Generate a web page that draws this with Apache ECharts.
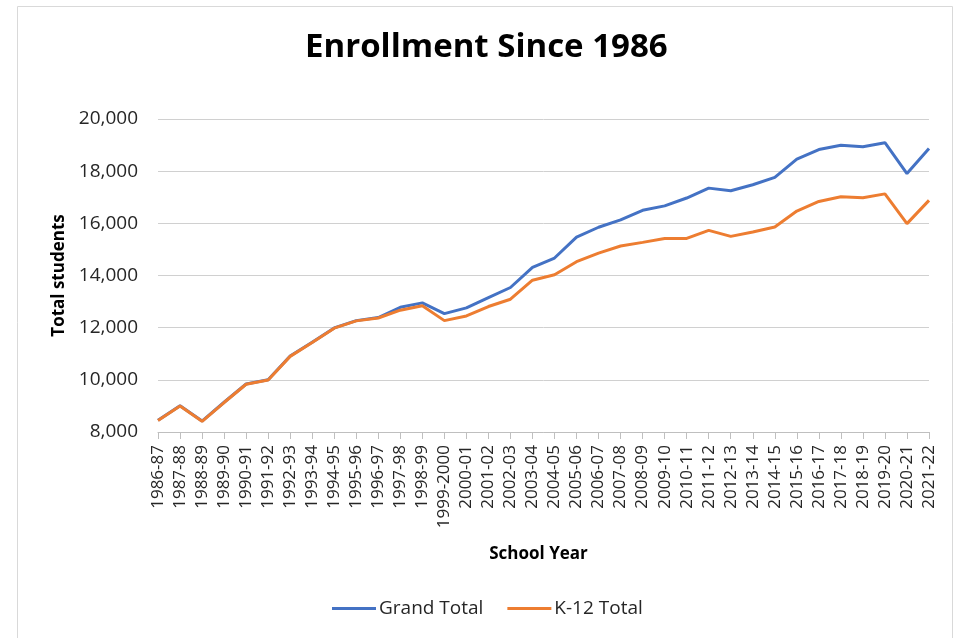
<!DOCTYPE html>
<html>
<head>
<meta charset="utf-8">
<script src="https://cdn.jsdelivr.net/npm/echarts@6/dist/echarts.min.js"></script>
<style>
  html, body { margin: 0; padding: 0; background: #ffffff; }
  #enrollmentChart { width: 957px; height: 638px; }
</style>
</head>
<body>
<div id="enrollmentChart"></div>
<script>
// school years on the x axis
const schoolYears = [
  "1986-87", "1987-88", "1988-89", "1989-90", "1990-91", "1991-92",
  "1992-93", "1993-94", "1994-95", "1995-96", "1996-97", "1997-98",
  "1998-99", "1999-2000", "2000-01", "2001-02", "2002-03", "2003-04",
  "2004-05", "2005-06", "2006-07", "2007-08", "2008-09", "2009-10",
  "2010-11", "2011-12", "2012-13", "2013-14", "2014-15", "2015-16",
  "2016-17", "2017-18", "2018-19", "2019-20", "2020-21", "2021-22"
];

const grandTotal = [
  8450, 9010, 8420, 9140, 9840, 10000,
  10910, 11440, 11990, 12270, 12390, 12780,
  12950, 12540, 12760, 13150, 13540, 14310,
  14670, 15470, 15850, 16130, 16500, 16670,
  16970, 17350, 17250, 17480, 17760, 18460,
  18830, 18990, 18940, 19090, 17910, 18870
];

const k12Total = [
  8440, 9000, 8410, 9130, 9830, 9990,
  10900, 11430, 11980, 12260, 12370, 12670,
  12840, 12270, 12450, 12810, 13090, 13820,
  14030, 14530, 14860, 15130, 15270, 15420,
  15420, 15730, 15500, 15670, 15860, 16470,
  16840, 17020, 16980, 17130, 15990, 16880
];

const fontFamily = "'Open Sans', 'Noto Sans', sans-serif";
const textColor = "#262626";

let chart = echarts.init(document.getElementById("enrollmentChart"));

let option = {
  animation: false,
  textStyle: { fontFamily: fontFamily },
  title: {
    text: "Enrollment Since 1986",
    left: 300,
    top: 26,
    textStyle: {
      color: "#000000",
      fontSize: 33,
      fontWeight: "bold",
      fontFamily: fontFamily
    }
  },
  graphic: [
    {
      type: "rect",
      shape: { x: 17.5, y: 6.5, width: 935, height: 700 },
      style: { fill: "none", stroke: "#d9d9d9", lineWidth: 1 },
      silent: true
    }
  ],
  legend: {
    bottom: 15,
    left: 327,
    itemWidth: 44,
    itemHeight: 3,
    itemGap: 24,
    icon: "rect",
    textStyle: { color: textColor, fontSize: 19, fontFamily: fontFamily, padding: [0, 0, 0, -2] },
    data: ["Grand Total", "K-12 Total"]
  },
  grid: {
    left: 158,
    right: 28,
    top: 119,
    bottom: 206,
    containLabel: false
  },
  xAxis: {
    type: "category",
    data: schoolYears,
    boundaryGap: false,
    name: "School Year",
    nameLocation: "middle",
    nameGap: 114,
    nameTextStyle: {
      color: "#000000",
      fontSize: 17,
      fontWeight: "bold",
      fontFamily: fontFamily,
      padding: [0, 10, 0, 0]
    },
    axisLine: { lineStyle: { color: "#bfbfbf", width: 1 } },
    axisTick: { show: true, alignWithLabel: true, length: 7, lineStyle: { color: "#bfbfbf" } },
    axisLabel: {
      rotate: 90,
      interval: 0,
      margin: 13,
      color: textColor,
      fontSize: 17,
      fontFamily: fontFamily
    },
    splitLine: { show: false }
  },
  yAxis: {
    type: "value",
    min: 8000,
    max: 20000,
    interval: 2000,
    name: "Total students",
    nameLocation: "middle",
    nameGap: 90,
    nameTextStyle: {
      color: "#000000",
      fontSize: 17,
      fontWeight: "bold",
      fontFamily: fontFamily
    },
    axisLine: { show: false },
    axisTick: { show: false },
    axisLabel: {
      margin: 20,
      color: textColor,
      fontSize: 19,
      fontFamily: fontFamily,
      formatter: function(value) {
        return value.toLocaleString("en-US");
      }
    },
    splitLine: { lineStyle: { color: "#d0d0d0", width: 1 } }
  },
  series: [
    {
      name: "Grand Total",
      type: "line",
      data: grandTotal,
      showSymbol: false,
      symbol: "none",
      lineStyle: { color: "#4472C4", width: 3 },
      itemStyle: { color: "#4472C4" }
    },
    {
      name: "K-12 Total",
      type: "line",
      data: k12Total,
      showSymbol: false,
      symbol: "none",
      lineStyle: { color: "#ED7D31", width: 3 },
      itemStyle: { color: "#ED7D31" }
    }
  ]
};

chart.setOption(option, true);
</script>
</body>
</html>
